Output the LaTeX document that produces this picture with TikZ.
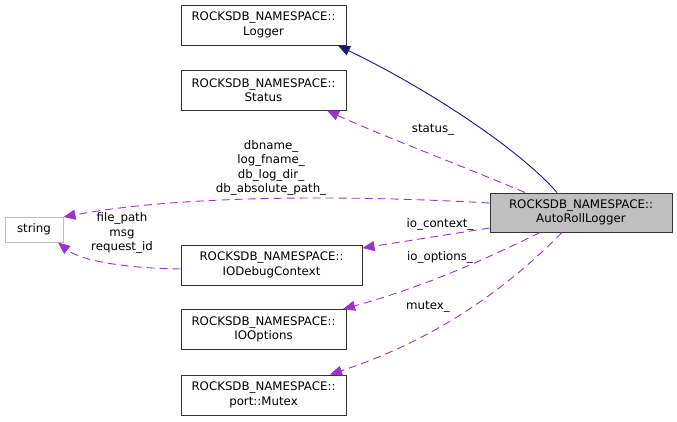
\documentclass[tikz,border=0pt]{standalone}
\usepackage{fontspec}
\setmainfont{DejaVu Sans}
\usepackage{tikz}
\usetikzlibrary{arrows.meta}

\definecolor{edgepurple}{HTML}{9A32CD}
\definecolor{edgenavy}{HTML}{191970}
\definecolor{boxgray}{HTML}{BFBFBF}

\begin{document}
\begin{tikzpicture}[x=1pt, y=-1pt, >={Triangle[length=12pt,width=10pt]},
    every node/.style={font=\fontsize{11.8}{14.5}\selectfont, align=center, inner sep=0pt},
    classbox/.style={draw=black!80, line width=1pt, minimum width=165pt, minimum height=40pt},
    member/.style={->, draw=edgepurple, dash pattern=on 8pt off 5pt, line width=0.9pt},
    inherit/.style={->, draw=edgenavy, line width=0.9pt}]
    \useasboundingbox (0,0) rectangle (677,421);

    \node[classbox] (logger) at (263.5,25) {ROCKSDB\_NAMESPACE::\\Logger};
    \node[classbox] (status) at (263.5,90) {ROCKSDB\_NAMESPACE::\\Status};
    \node[draw=boxgray, line width=1pt, minimum width=58pt, minimum height=25pt] (string) at (34,229.5) {string};
    \node[classbox, minimum width=181pt] (iodebug) at (271.5,265) {ROCKSDB\_NAMESPACE::\\IODebugContext};
    \node[classbox] (iooptions) at (263.5,329.5) {ROCKSDB\_NAMESPACE::\\IOOptions};
    \node[classbox] (mutex) at (263.5,395) {ROCKSDB\_NAMESPACE::\\port::Mutex};
    \node[classbox, fill=boxgray, minimum width=182pt, minimum height=39pt] (autoroll) at (581,212.5) {ROCKSDB\_NAMESPACE::\\AutoRollLogger};

    % base class
    \draw[inherit] (autoroll.north -| 557,0) .. controls (520,150) and (430,90) .. (logger.south east -| 338,0);

    % members of AutoRollLogger
    \draw[member] (autoroll.north -| 525,0) .. controls (460,165) and (380,135) .. (status.south -| 327,0);
    \draw[member] (autoroll.west |- 0,203) .. controls (350,195) and (180,195) .. (string.north east |- 0,217);
    \draw[member] (autoroll.west |- 0,228) -- (iodebug.east |- 0,248);
    \draw[member] (autoroll.south -| 540,0) .. controls (480,262) and (420,288) .. (iooptions.north -| 343,0);
    \draw[member] (autoroll.south -| 562,0) .. controls (520,275) and (450,335) .. (mutex.north -| 330,0);

    % member of IODebugContext
    \draw[member] (iodebug.west |- 0,269) .. controls (120,268) and (80,260) .. (string.south -| 58,0);

    \node (lblstatus) at (433,130) {status\_};
    \node (lblstring) at (271,168) {dbname\_\\log\_fname\_\\db\_log\_dir\_\\db\_absolute\_path\_};
    \node (lblcontext) at (440,224) {io\_context\_};
    \node (lbloptions) at (440,257) {io\_options\_};
    \node (lblmutex) at (428,307) {mutex\_};
    \node (lbldebug) at (122,233) {file\_path\\msg\\request\_id};
\end{tikzpicture}
\end{document}
